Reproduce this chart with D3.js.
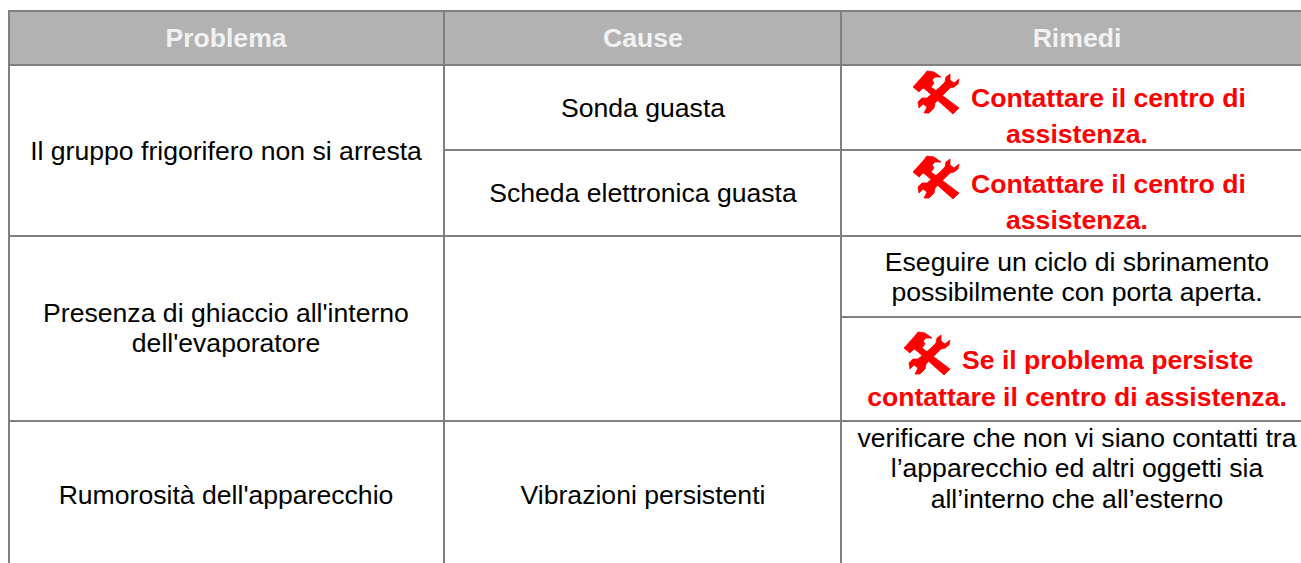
<!DOCTYPE html>
<html><head><meta charset="utf-8">
<script src="https://cdn.jsdelivr.net/npm/d3@7/dist/d3.min.js"></script>
<style>html,body{margin:0;padding:0;background:#fff}svg{display:block}</style>
</head><body><div id="c"></div>
<script>
// ---- content ----
const headers = ["Problema","Cause","Rimedi"];
const problems = [["Il gruppo frigorifero non si arresta"],["Presenza di ghiaccio all'interno","dell'evaporatore"],["Rumorosità dell'apparecchio"]];
const causes = [["Sonda guasta"],["Scheda elettronica guasta"],["Vibrazioni persistenti"]];
const remedies = [["Eseguire un ciclo di sbrinamento","possibilmente con porta aperta."],["verificare che non vi siano contatti tra","l’apparecchio ed altri oggetti sia","all’interno che all’esterno"]];
const warnings = [["Contattare il centro di","assistenza."],["Contattare il centro di","assistenza."],["Se il problema persiste","contattare il centro di assistenza."]];

// ---- layout ----
const W=1301,H=563,font="'Liberation Sans',Arial,Helvetica,sans-serif",grey="#808080",red="#ff0000",fs=26.6;
const colX=[9,444,841,W], rowY=[11,65,150,236,317,421,H], mid=[226,643,1077];
const problemBase=[[160],[322,352],[504]];
const causeBase=[[117],[202],[504]];
const remedyBase=[[271,301],[447,477,508]];
const warningBase=[[107,143],[193,229],[369,406]];
const warningStart=[971,971,962];
const iconOrigin=[[913,71],[913,156],[904,332]];

const svg=d3.select("#c").append("svg").attr("width",W).attr("height",H).attr("font-family",font);
svg.append("rect").attr("x",colX[0]).attr("y",rowY[0]).attr("width",W-colX[0]).attr("height",rowY[1]-rowY[0]).attr("fill","#b2b2b2");

const hl=[[colX[0],W,rowY[0]],[colX[0],W,rowY[1]],[colX[1],W,rowY[2]],[colX[0],W,rowY[3]],[colX[2],W,rowY[4]],[colX[0],W,rowY[5]]];
svg.selectAll("line.h").data(hl).join("line").attr("class","h")
  .attr("x1",d=>d[0]).attr("x2",d=>d[1]).attr("y1",d=>d[2]).attr("y2",d=>d[2]).attr("stroke",grey).attr("stroke-width",2);
svg.selectAll("line.v").data(colX.slice(0,3)).join("line").attr("class","v")
  .attr("x1",d=>d).attr("x2",d=>d).attr("y1",rowY[0]-1).attr("y2",H).attr("stroke",grey).attr("stroke-width",2);

svg.selectAll("text.hd").data(headers).join("text").attr("class","hd")
  .attr("x",(d,i)=>mid[i]).attr("y",47).attr("text-anchor","middle").attr("font-size",fs).attr("font-weight","bold").attr("fill","#f2f2f2").text(d=>d);

function put(lines,bases,x,anchor,bold,color){
  lines.forEach((l,i)=>svg.append("text").attr("x",x).attr("y",bases[i]).attr("text-anchor",anchor)
    .attr("font-size",fs).attr("font-weight",bold?"bold":"normal").attr("fill",color).text(l));
}
problems.forEach((p,i)=>put(p,problemBase[i],mid[0],"middle",false,"#000"));
causes.forEach((p,i)=>put(p,causeBase[i],mid[1],"middle",false,"#000"));
remedies.forEach((p,i)=>put(p,remedyBase[i],mid[2],"middle",false,"#000"));

const iconParts=[
 "M0,16 L10,5 L14,0 L21,1 L28,6 L22,6 L19,9 L21,12 L18,16 L46,37 L40,43 L13,19 L10,17 L6,21 Z",
 "M37,3 L33,6 L32,11 L27,16 L14,27 L9,27 L5,31 L6,37 L10,33 L14,36 L11,42 L16,42 L21,37 L22,32 L37,17 L41,16 L45,13 L46,8 L41,12 L37,9 Z"
];
warnings.forEach((w,i)=>{
  const g=svg.append("g").attr("transform",`translate(${iconOrigin[i][0]},${iconOrigin[i][1]})`);
  g.selectAll("path").data(iconParts).join("path").attr("d",d=>d).attr("fill",red).attr("stroke",red).attr("stroke-width",0.8).attr("stroke-linejoin","round");
  put([w[0]],[warningBase[i][0]],warningStart[i],"start",true,red);
  put([w[1]],[warningBase[i][1]],mid[2],"middle",true,red);
});
</script></body></html>
